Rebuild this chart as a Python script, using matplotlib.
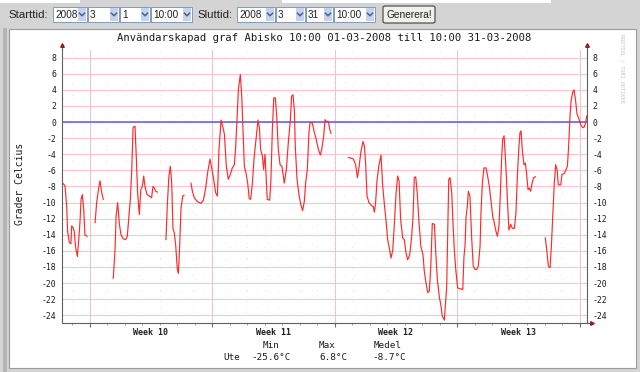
import numpy as np
import pandas as pd
import matplotlib
matplotlib.use('Agg')
import matplotlib.pyplot as plt
from matplotlib.patches import Rectangle, FancyBboxPatch
from matplotlib.lines import Line2D
import matplotlib.transforms as mtrans

plt.rcParams['axes.unicode_minus'] = False

nan = float('nan')

# time axis: days since 2008-03-01 10:00, nan = gap in data
start = pd.Timestamp('2008-03-01 10:00')
end = pd.Timestamp('2008-03-31 10:00')

days = [0.02, 0.17, 0.27, 0.32, 0.42, 0.51, 0.55, 0.65, 0.70, 0.78, 0.88, 0.97, 1.03, 1.09, 1.16, 1.24, 1.31, 1.43, nan,
        1.89, 1.98, 2.08, 2.17, 2.27, 2.36, nan,
        2.93, 3.03, 3.09, 3.18, 3.28, 3.37, 3.50, 3.64, 3.73, 3.83, 3.90, 3.98, 4.06, 4.17, 4.25, 4.32, 4.42, 4.50,
        4.59, 4.67, 4.74, 4.86, 4.99, 5.12, 5.20, 5.28, 5.35, 5.45, nan,
        5.94, 6.02, 6.11, 6.19, 6.27, 6.34, 6.42, 6.50, 6.59, 6.65, 6.72, 6.80, 6.90, 6.97, nan,
        7.37, 7.45, 7.56, 7.70, 7.83, 7.94, 8.08, 8.21, 8.32, 8.46, 8.55, 8.65, 8.78, 8.88, 8.97, 9.09, 9.18, 9.28,
        9.39, 9.50, 9.62, 9.73, 9.85, 9.92, 10.00, 10.08, 10.19, 10.27, 10.34, 10.42, 10.53, 10.61, 10.70, 10.78,
        10.88, 10.97, 11.09, 11.20, 11.28, 11.35, 11.45, 11.52, 11.60, 11.66, 11.73, 11.87, 11.94, 12.02, 12.10,
        12.19, 12.27, 12.36, 12.46, 12.57, 12.70, 12.82, 12.93, 13.05, 13.12, 13.20, 13.28, 13.33, 13.43, 13.54,
        13.64, 13.75, 13.85, 13.92, 14.02, 14.11, 14.17, 14.30, 14.42, 14.53, 14.65, 14.76, 14.84, 14.95, 15.03,
        15.12, 15.22, 15.30, 15.37, nan,
        16.36, 16.55, 16.65, 16.78, 16.88, 16.97, 17.07, 17.20, 17.28, 17.35, 17.43, 17.54, 17.70, 17.79, 17.85,
        17.92, 18.00, 18.10, 18.23, 18.32, 18.42, 18.51, 18.61, 18.70, 18.80, 18.90, 18.99, 19.09, 19.18, 19.26,
        19.35, 19.47, 19.56, 19.66, 19.75, 19.87, 19.98, 20.06, 20.13, 20.21, 20.30, 20.40, 20.51, 20.63, 20.70,
        20.80, 20.90, 20.99, 21.07, 21.16, 21.28, 21.35, 21.45, 21.56, 21.66, 21.73, 21.85, 21.90, 21.98, 22.04,
        22.10, 22.17, 22.27, 22.34, 22.42, 22.50, 22.61, 22.74, 22.90, 22.97, 23.03, 23.09, 23.16, 23.22, 23.31,
        23.41, 23.50, 23.60, 23.70, 23.79, 23.89, 23.94, 24.02, 24.11, 24.23, 24.32, 24.42, 24.51, 24.61, 24.70,
        24.80, 24.88, 24.97, 25.05, 25.12, 25.18, 25.26, 25.31, 25.39, 25.47, 25.54, 25.64, 25.73, 25.85, 25.94,
        26.02, 26.10, 26.17, 26.23, 26.30, 26.40, 26.48, 26.55, 26.63, 26.70, 26.78, 26.86, 26.95, 27.05, nan,
        27.62, 27.70, 27.79, 27.89, 27.96, 28.04, 28.13, 28.21, 28.29, 28.36, 28.50, 28.57, 28.70, 28.80, 28.88,
        28.95, 29.03, 29.09, 29.18, 29.26, 29.35, 29.43, 29.52, 29.64, 29.75, 29.85, 29.94, 29.98]

temps = [-7.55, -7.9, -10.5, -13.6, -15.0, -15.1, -12.9, -13.2, -13.6, -15.6, -16.7, -14.2, -12.3, -9.6, -9.0, -10.8, -14.0, -14.2, nan,
         -12.5, -10.0, -8.4, -7.3, -8.8, -9.6, nan,
         -19.4, -15.9, -11.7, -10.0, -12.7, -14.0, -14.5, -14.6, -14.2, -11.5, -9.8, -6.3, -0.7, -0.5, -4.6, -8.8, -11.5, -8.4,
         -8.0, -6.7, -8.0, -9.0, -9.2, -9.4, -8.0, -8.2, -8.6, -8.7, nan,
         -14.6, -10.2, -6.7, -5.5, -7.6, -13.2, -13.8, -15.4, -18.3, -18.8, -15.6, -10.7, -9.2, -9.1, nan,
         -7.6, -8.6, -9.4, -9.8, -10.0, -10.1, -9.7, -8.2, -6.3, -4.6, -5.7, -6.9, -8.8, -9.2, -3.4, 0.25, -0.5, -1.5,
         -5.5, -7.1, -6.5, -5.7, -5.3, -3.2, 0.3, 4.1, 5.9, 3.2, -0.9, -5.5, -6.5, -7.6, -9.5, -9.6,
         -7.6, -4.6, -2.0, 0.25, -0.7, -3.4, -4.2, -5.9, -4.0, -6.7, -9.6, -9.7, -7.1, -0.9, 3.0,
         3.0, 0.75, -3.4, -5.3, -5.5, -7.6, -5.9, -2.6, 0.3, 3.2, 3.4, 1.4, -3.0, -7.1, -9.0,
         -10.2, -11.0, -9.8, -7.6, -5.9, -1.3, -0.1, -0.1, -1.3, -2.2, -3.4, -4.1, -3.4, -1.8, 0.3,
         0.05, 0.1, -0.9, -1.4, nan,
         -4.4, -4.5, -4.6, -5.3, -6.9, -5.7, -3.8, -2.4, -3.0, -5.1, -9.2, -10.0, -10.4, -10.5, -11.2,
         -10.0, -7.3, -5.5, -4.1, -7.8, -10.2, -12.1, -14.6, -15.6, -16.9, -15.9, -12.7, -8.8, -6.7, -7.3,
         -12.1, -14.4, -14.6, -16.3, -17.1, -16.5, -14.2, -11.7, -6.9, -6.8, -8.8, -12.5, -15.5, -16.5, -18.5,
         -20.0, -21.2, -21.0, -18.1, -12.6, -12.7, -15.9, -19.6, -21.7, -22.9, -24.1, -24.6, -22.9, -20.6, -13.8,
         -7.1, -6.9, -8.8, -12.5, -15.9, -18.3, -20.6, -20.7, -20.8, -16.7, -15.4, -11.7, -10.5, -8.6, -9.2,
         -14.4, -17.9, -18.3, -18.3, -17.9, -15.4, -11.3, -7.6, -5.7, -5.7, -6.7, -8.0, -9.8, -11.7, -12.5,
         -13.6, -14.2, -12.9, -8.8, -4.6, -2.2, -1.7, -3.4, -6.7, -10.5, -13.4, -12.7, -13.2, -13.2, -11.3,
         -6.7, -3.4, -1.3, -1.1, -3.4, -5.3, -5.1, -6.5, -8.4, -8.2, -8.6, -7.6, -6.9, -6.8, nan,
         -14.4, -15.9, -17.9, -18.1, -15.6, -11.7, -7.6, -5.3, -5.9, -7.8, -7.8, -6.5, -6.4, -5.9, -5.5,
         -3.0, 0.75, 2.6, 3.7, 4.0, 2.6, 1.0, 0.5, -0.3, -0.7, -0.6, 0.1, 0.75]

week_names = ['Week 10', 'Week 11', 'Week 12', 'Week 13']
stat_names = ['Min', 'Max', 'Medel']
stat_values = ['-25.6°C', '6.8°C', '-8.7°C']
start_fields = ['2008', '3', '1', '10:00']
end_fields = ['2008', '3', '31', '10:00']

title = 'Användarskapad graf Abisko 10:00 01-03-2008 till 10:00 31-03-2008'

W, H = 640, 372
fig = plt.figure(figsize=(W / 100, H / 100), dpi=100)
fig.patch.set_facecolor('#d4d4d4')


def fx(x):
    return x / W


def fy(y):
    return 1 - y / H


def frect(x0, y0, x1, y1, **kw):
    fig.add_artist(Rectangle((fx(x0), fy(y1)), fx(x1) - fx(x0), fy(y0) - fy(y1),
                             transform=fig.transFigure, zorder=-5, **kw))


# page chrome
frect(3, 28, 7, 372, facecolor='#b4b4b4', edgecolor='none')
frect(0, 0, 80, 3, facecolor='white', edgecolor='none')
frect(282, 0, 551, 3, facecolor='white', edgecolor='none')
frect(9, 29, 636, 368, facecolor='white', edgecolor='#9a9a9a', lw=0.8)

# form row
form_font = 'Liberation Sans'
fig.text(fx(8), fy(14.5), 'Starttid:', family=form_font, size=8.2, va='center', color='#202020')
fig.text(fx(197), fy(14.5), 'Sluttid:', family=form_font, size=8.2, va='center', color='#202020')


def dropdown(x0, x1, label):
    frect(x0, 7, x1, 21.5, facecolor='white', edgecolor='#7f9db9', lw=0.7)
    frect(x1 - 9, 8, x1 - 1, 20.5, facecolor='#c3d3f2', edgecolor='none')
    cx, cy = x1 - 5, 14.5
    fig.add_artist(Line2D([fx(cx - 2.5), fx(cx), fx(cx + 2.5)], [fy(cy - 1.3), fy(cy + 1.3), fy(cy - 1.3)],
                          transform=fig.transFigure, color='#4d6185', lw=1.1))
    fig.text(fx(x0 + 2), fy(14.5), label, family=form_font, size=7.2, va='center', color='#202020')


start_boxes = [(53, 87), (88, 119), (120, 150), (151, 192)]
end_boxes = [(237, 275), (276, 305), (306, 333), (334, 375)]
for (a, b), lab in zip(start_boxes, start_fields):
    dropdown(a, b, lab)
for (a, b), lab in zip(end_boxes, end_fields):
    dropdown(a, b, lab)

fig.add_artist(FancyBboxPatch((fx(383), fy(23)), fx(435) - fx(383), fy(6) - fy(23),
                              boxstyle='round,pad=0,rounding_size=0.004', transform=fig.transFigure,
                              facecolor='#f0f0ec', edgecolor='#404040', lw=0.8))
fig.text(fx(409), fy(14.5), 'Generera!', family=form_font, size=7.3, ha='center', va='center', color='#202020')

# graph
ax = fig.add_axes([fx(62), fy(323.3), fx(587) - fx(62), fy(49.6) - fy(323.3)])
ax.set_zorder(2)
ax.set_facecolor('white')
ax.set_xlim(0, (end - start) / pd.Timedelta('1D'))
ax.set_ylim(-25, 9)

mondays = pd.date_range('2008-03-03', '2008-03-31', freq='7D')
monday_days = [(m - start) / pd.Timedelta('1D') for m in mondays]
midnights = pd.date_range('2008-03-02', '2008-03-31', freq='D')
midnight_days = [(m - start) / pd.Timedelta('1D') for m in midnights]

ax.set_xticks(monday_days)
ax.set_xticks(midnight_days, minor=True)
ax.set_yticks(np.arange(-24, 9, 2))
ax.set_yticks(np.arange(-23, 9, 2), minor=True)
ax.set_xticklabels([])

ax.grid(True, which='major', axis='y', color='#f7c6cf', lw=0.8)
ax.grid(True, which='major', axis='x', color='#ecc4cb', lw=0.8)
ax.grid(True, which='minor', color='#dedede', lw=0.6, linestyle=(0, (1, 12)))

ax.axhline(0, color='#5a5af0', lw=1.1)
ax.plot(days, temps, color='#ff2a2a', lw=0.85)

ax.spines['top'].set_visible(False)
for s in ['left', 'right', 'bottom']:
    ax.spines[s].set_color('#606060')
    ax.spines[s].set_linewidth(0.8)

ax.tick_params(axis='y', which='both', length=0, left=False, right=False,
               labelleft=True, labelright=True, pad=4)
for t in ax.yaxis.get_major_ticks():
    for lab in (t.label1, t.label2):
        lab.set_family('DejaVu Sans Mono')
        lab.set_fontsize(5.9)
        lab.set_color('#1a1a1a')
ax.tick_params(axis='x', which='major', length=3, color='#707070', direction='out')
ax.tick_params(axis='x', which='minor', length=1.5, color='#909090', direction='out')

# axis arrows
for xa in [0, 1]:
    ax.plot([xa, xa], [1, 1.013], transform=ax.transAxes, clip_on=False, color='#606060', lw=0.8)
    ax.plot([xa], [1.016], marker='^', markersize=2.6, color='#a01818', transform=ax.transAxes, clip_on=False)
ax.plot([1, 1.006], [0, 0], transform=ax.transAxes, clip_on=False, color='#606060', lw=0.8)
ax.plot([1.009], [0], marker='>', markersize=2.6, color='#a01818', transform=ax.transAxes, clip_on=False)

# week labels
btrans = mtrans.blended_transform_factory(ax.transData, ax.transAxes)
for m, name in zip(monday_days[:-1], week_names):
    ax.text(m + 3.5, -0.032, name, transform=btrans, ha='center', va='center',
            family='DejaVu Sans Mono', weight='bold', size=6.0, color='#202020')

fig.text(fx(324), fy(38), title, ha='center', va='center', family='DejaVu Sans Mono', size=7.6, color='#1a1a1a')
fig.text(fx(20), fy(184), 'Grader Celcius', rotation=90, ha='center', va='center',
         family='DejaVu Sans Mono', size=7.0, color='#1a1a1a')
fig.text(fx(622), fy(68), 'RRDTOOL / TOBI OETIKER', rotation=270, ha='center', va='center',
         family='DejaVu Sans Mono', size=3.8, color='#c4c4c4')

# legend stats
stat_x = [271, 327, 388]
for x, name in zip(stat_x, stat_names):
    fig.text(fx(x), fy(345), name, ha='center', va='center', family='DejaVu Sans Mono', size=6.7, color='#1a1a1a')
fig.text(fx(223), fy(357), 'Ute', ha='left', va='center', family='DejaVu Sans Mono', size=6.7, color='#1a1a1a')
val_right = [291, 348, 406]
for x, v in zip(val_right, stat_values):
    fig.text(fx(x), fy(357), v, ha='right', va='center', family='DejaVu Sans Mono', size=6.7, color='#1a1a1a')

fig.savefig('out.png', dpi=100, facecolor=fig.get_facecolor())
